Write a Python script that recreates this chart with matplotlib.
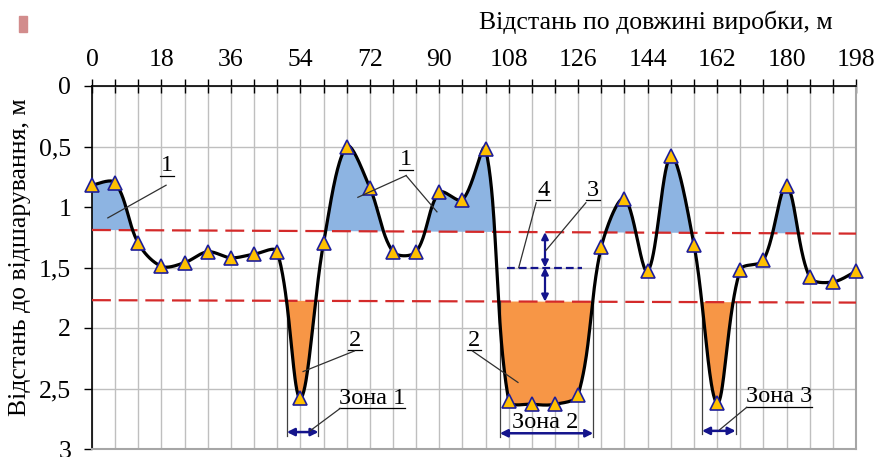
import numpy as np
import matplotlib
matplotlib.use("Agg")
import matplotlib.pyplot as plt
from matplotlib.patches import Rectangle
from matplotlib.ticker import FuncFormatter

# Measured distance to the delamination along the working
distance = np.arange(0, 199, 6)
depth = [0.82, 0.80, 1.30, 1.49, 1.46, 1.37, 1.42, 1.39, 1.37, 2.58,
         1.30, 0.50, 0.84, 1.37, 1.37, 0.88, 0.94, 0.52, 2.60, 2.63,
         2.63, 2.55, 1.33, 0.93, 1.53, 0.58, 1.31, 2.62, 1.52, 1.44,
         0.83, 1.58, 1.62, 1.53]

# Threshold lines (value at start and end of the working)
upper_limit = [1.19, 1.22]
lower_limit = [1.77, 1.79]
mean_level = 1.50

# Zones of dangerous delamination (start, end)
zones = [(50.5, 58.7), (105.7, 129.9), (158.1, 166.8)]
zone_names = ["Зона 1", "Зона 2", "Зона 3"]

x_ticks = np.arange(0, 199, 18)
y_ticks = [0, 0.5, 1, 1.5, 2, 2.5, 3]

plt.rcParams['font.family'] = 'serif'
plt.rcParams['font.serif'] = ['Liberation Serif', 'DejaVu Serif']

FS = 18.5
FS_ANN = 17.5
NAVY = '#14148C'

# screen scale (px per unit) used for the curve smoothing
SX, SY = 3.86, 121.0


def smooth_curve(x, y, n=40):
    """Piecewise cubic Bezier through the points, tangents weighted by
    neighbouring segment lengths so that steep jumps do not overshoot."""
    pts = np.column_stack([x, y]).astype(float)
    scr = pts * np.array([SX, SY])
    m = len(pts)
    seg = np.hypot(*np.diff(scr, axis=0).T)
    xs, ys = [], []
    for i in range(m - 1):
        i0 = max(i - 1, 0)
        i3 = min(i + 2, m - 1)
        p0, p1, p2, p3 = pts[i0], pts[i], pts[i + 1], pts[i3]
        d01 = seg[i - 1] if i > 0 else seg[i]
        d12 = seg[i]
        d23 = seg[i + 1] if i + 1 < m - 1 else seg[i]
        c1 = p1 + (p2 - p0) / 3.0 * d12 / (d01 + d12)
        c2 = p2 - (p3 - p1) / 3.0 * d12 / (d12 + d23)
        t = np.linspace(0, 1, n, endpoint=(i == m - 2))[:, None]
        b = ((1 - t) ** 3) * p1 + 3 * ((1 - t) ** 2) * t * c1 \
            + 3 * (1 - t) * t ** 2 * c2 + t ** 3 * p2
        xs.append(b[:, 0])
        ys.append(b[:, 1])
    return np.concatenate(xs), np.concatenate(ys)


def line_at(limit, x):
    return limit[0] + (limit[1] - limit[0]) * np.asarray(x) / 198.0


fig = plt.figure(figsize=(8.78, 4.57), dpi=100)
ax = fig.add_axes([92 / 878, 8 / 457, (856 - 92) / 878, (449 - 86) / 457])

ax.set_xlim(0, 198)
ax.set_ylim(3, 0)

xs, ys = smooth_curve(distance, depth)
up = line_at(upper_limit, xs)
lo = line_at(lower_limit, xs)

ax.fill_between(xs, ys, up, where=ys <= up, interpolate=True,
                color='#8DB4E2', lw=0, zorder=2)
ax.fill_between(xs, ys, lo, where=ys >= lo, interpolate=True,
                color='#F79646', lw=0, zorder=2)

xl = np.array([0, 198])
ax.plot(xl, line_at(upper_limit, xl), color='#D42A2A', lw=1.6,
        ls=(0, (8.5, 3.5)), zorder=3)
ax.plot(xl, line_at(lower_limit, xl), color='#D42A2A', lw=1.6,
        ls=(0, (8.5, 3.5)), zorder=3)

ax.plot(xs, ys, color='black', lw=2.3, zorder=4, solid_capstyle='round')
ax.plot(distance, depth, ls='none', marker='^', ms=10,
        mfc='#FFC000', mec='#1E1E9A', mew=1.2, zorder=5, clip_on=False)

# Zone boundaries and width arrows
zone_y = [2.86, 2.87, 2.85]
for (a, b), zy in zip(zones, zone_y):
    top = line_at(lower_limit, a)
    for xv in (a, b):
        ax.plot([xv, xv], [top, zy + 0.03], color='#404040', lw=0.9, zorder=3)
    ax.annotate('', xy=(a, zy), xytext=(b, zy),
                arrowprops=dict(arrowstyle='<|-|>', color=NAVY, lw=1.8,
                                mutation_scale=11, shrinkA=0, shrinkB=0),
                zorder=6)

# Mean level and its distances to the thresholds
ax.plot([107.5, 127], [mean_level, mean_level], color=NAVY, lw=1.6,
        ls=(0, (3.5, 1.8)), zorder=6)
xa = 117.4
for y0, y1 in ((line_at(upper_limit, xa), mean_level),
               (mean_level, line_at(lower_limit, xa))):
    ax.annotate('', xy=(xa, y0), xytext=(xa, y1),
                arrowprops=dict(arrowstyle='<|-|>', color=NAVY, lw=1.6,
                                mutation_scale=10, shrinkA=0, shrinkB=0),
                zorder=6)


def callout(text, tx, ty, leaders, underline=True, ulen=None):
    t = ax.text(tx, ty, text, ha='center', va='center', fontsize=FS_ANN,
                zorder=7)
    if underline:
        half = ulen / 2.0
        uy = ty + 0.085
        ax.plot([tx - half, tx + half], [uy, uy], color='black', lw=0.9,
                zorder=7)
    for (x0, y0, x1, y1) in leaders:
        ax.plot([x0, x1], [y0, y1], color='#303030', lw=0.9, zorder=7)
    return t


callout("1", 19.4, 0.66, [(19.2, 0.82, 4.1, 1.09)], ulen=3.6)
callout("1", 81.4, 0.61, [(81.4, 0.74, 68.9, 0.92), (81.4, 0.74, 89.4, 1.04)],
        ulen=3.6)
callout("2", 68.2, 2.10, [(68.0, 2.19, 54.7, 2.36)], ulen=3.6)
callout("2", 99.0, 2.10, [(98.6, 2.19, 110.4, 2.45)], ulen=3.6)
callout("4", 116.9, 0.86, [(115.1, 0.965, 110.6, 1.50)], ulen=3.6)
callout("3", 129.8, 0.86, [(128.0, 0.965, 117.6, 1.36)], ulen=3.6)
callout(zone_names[0], 72.6, 2.58, [(64.3, 2.665, 56.5, 2.85)], ulen=17.2)
callout(zone_names[1], 117.4, 2.78, [], underline=False)
callout(zone_names[2], 178.0, 2.57, [(169.7, 2.655, 162.7, 2.84)], ulen=17.2)

# Axes styling
ax.xaxis.tick_top()
ax.set_xticks(x_ticks)
ax.set_xticks(np.arange(0, 199, 6), minor=True)
ax.set_yticks(y_ticks)
ax.yaxis.set_major_formatter(FuncFormatter(
    lambda v, p: ('%g' % v).replace('.', ',')))
ax.tick_params(axis='x', which='both', direction='inout', length=10,
               width=1, top=True, bottom=False, labelsize=FS, pad=6)
ax.tick_params(axis='y', which='both', direction='out', length=6, width=1,
               labelsize=FS, pad=9)
ax.grid(True, which='both', axis='x', color='#BFBFBF', lw=1)
ax.grid(True, which='major', axis='y', color='#BFBFBF', lw=1)
ax.set_axisbelow(True)
for side in ('left', 'top'):
    ax.spines[side].set_color('black')
    ax.spines[side].set_linewidth(1.2)
for side in ('right', 'bottom'):
    ax.spines[side].set_color('#A6A6A6')
    ax.spines[side].set_linewidth(1.5)

fig.text(656 / 878, 1 - 22 / 457, "Відстань по довжині виробки, м",
         ha='center', va='center', fontsize=FS)
fig.text(20 / 878, 1 - 257 / 457, "Відстань до відшарування, м",
         ha='center', va='center', rotation=90, fontsize=FS)

fig.patches.append(Rectangle((19 / 878, 1 - 32 / 457), 8 / 878, 16 / 457,
                             transform=fig.transFigure, color='#D28C8C'))

fig.savefig('out.png', dpi=100)
